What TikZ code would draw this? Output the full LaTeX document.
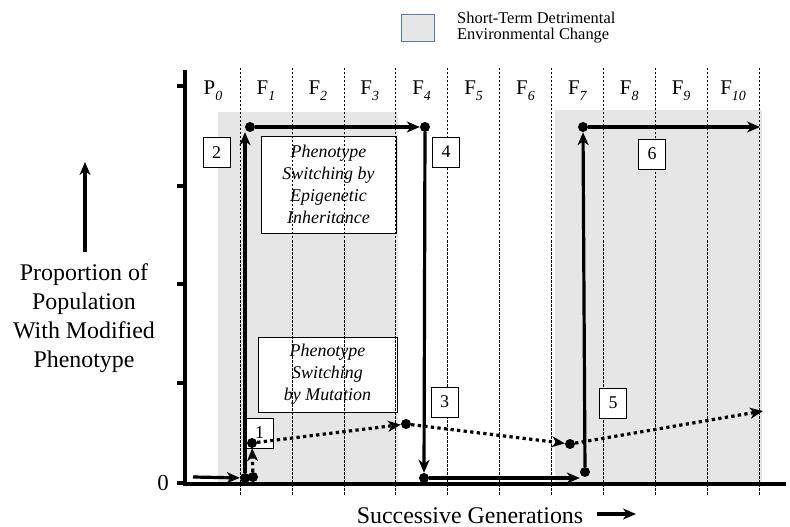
\documentclass[tikz,border=0pt]{standalone}
\usepackage{fontspec}
\setmainfont{Liberation Serif}
\usetikzlibrary{arrows.meta}
\definecolor{regiongray}{RGB}{230,230,230}
\definecolor{legendblue}{RGB}{80,125,175}
\newcommand{\gsub}[1]{\raisebox{-0.28em}{\fontsize{14}{14}\selectfont\itshape #1}}
\begin{document}
\begin{tikzpicture}[x=1bp,y=-1bp,
 thickline/.style={line width=3.2bp},
 dotline/.style={line width=3.2bp, dash pattern=on 3.3bp off 3.3bp},
 tip/.style={-{Stealth[length=13bp,width=11bp,inset=4bp]}},
 dot/.style={circle,fill=black,inner sep=0pt,minimum size=10bp},
 numbox/.style={draw,fill=white,line width=0.6bp,minimum width=27bp,minimum height=30bp,inner sep=0pt,font=\fontsize{18}{18}\selectfont},
 textbox/.style={draw,fill=white,line width=0.6bp,inner sep=0pt,align=center,font=\fontsize{18}{22}\selectfont\itshape},
 gen/.style={font=\fontsize{21}{21}\selectfont,anchor=base,inner sep=0pt},
 gridline/.style={line width=0.6bp,dash pattern=on 2.5bp off 1.5bp},
 legtext/.style={anchor=base west, inner sep=0pt, font=\fontsize{16.5}{16.5}\selectfont}
]
\useasboundingbox (0,0) rectangle (790,527);
% shaded regions
\fill[regiongray] (218,112) rectangle (398,484);
\fill[regiongray] (555,110) rectangle (762,484);
% legend
\node[draw=legendblue, fill=regiongray, line width=0.8bp, minimum width=33bp, minimum height=27bp, inner sep=0pt] (leg) at (417.5,27.5) {};
\node[legtext] (legA) at (457,24) {Short-Term Detrimental};
\node[legtext] (legB) at (457,39.5) {Environmental Change};
% text boxes
\node[textbox, minimum width=135bp, minimum height=97bp] (epi) at (328.5,184.5) {Phenotype\\Switching by\\Epigenetic\\Inheritance};
\node[textbox, minimum width=139bp, minimum height=75bp] (mut) at (327.5,374.5) {Phenotype\\Switching\\by Mutation};
% grid
\foreach \k in {0,...,10} {
  \draw[gridline] (240+51.9*\k,68) -- (240+51.9*\k,495);
}
% generation labels
\node[gen] (g0) at (213,95) {P\gsub{0}};
\foreach \k in {1,...,10} {
  \node[gen] (g\k) at (240+51.9*\k-25.95,95) {F\gsub{\k}};
}
% number boxes
\node[numbox] (n1) at (259.5,433) {1};
\node[numbox] (n2) at (216.5,152.5) {2};
\node[numbox] (n3) at (444.5,402) {3};
\node[numbox] (n4) at (446,152) {4};
\node[numbox] (n5) at (613,403) {5};
\node[numbox] (n6) at (652,154) {6};
% axes
\draw[thickline] (185,70) -- (185,485.6);
\draw[thickline] (183.4,484) -- (786,484);
\foreach \y in {86,186,284,383,483} {
  \draw[thickline] (177,\y) -- (185,\y);
}
\node[anchor=base, inner sep=0pt, font=\fontsize{23}{23}\selectfont] (zero) at (163,490) {0};
% axis labels
\node[align=center, inner sep=0pt, font=\fontsize{24}{29}\selectfont] (ylab) at (84,318) {Proportion of\\Population\\With Modified\\Phenotype};
\coordinate (ya0) at (85,252);
\coordinate (ya1) at (85,162);
\draw[thickline, tip] (ya0) -- (ya1);
\node[anchor=base, inner sep=0pt, font=\fontsize{24}{24}\selectfont] (xlab) at (470,523) {Successive Generations};
\coordinate (xa0) at (597,514);
\coordinate (xa1) at (636,514);
\draw[thickline, tip] (xa0) -- (xa1);
% path points
\coordinate (a0) at (193,477);
\node[dot] (d1) at (245,478) {};
\node[dot] (d2) at (253,477) {};
\node[dot] (d3) at (252,443) {};
\node[dot] (d4) at (250,127) {};
\node[dot] (d5) at (425,127) {};
\node[dot] (d6) at (424,478) {};
\node[dot] (d7) at (585,472) {};
\node[dot] (d8) at (583,127) {};
\coordinate (e1) at (760,127);
\node[dot] (m1) at (406,424) {};
\node[dot] (m2) at (570,444) {};
\coordinate (m3) at (763,411);
% solid path
\draw[thickline, tip] (a0) -- (d1);
\draw[thickline, tip] (d1) -- (d1 |- d4.south);
\draw[thickline, tip] (d4) -- (d5);
\draw[thickline, tip] (d5) -- (d6);
\draw[thickline, tip] (d6) -- (d7.west |- d6);
\draw[thickline, tip] (d7) -- (d8);
\draw[thickline, tip] (d8) -- (e1);
% dotted path
\draw[dotline, tip] (d2) -- (d3);
\draw[dotline, tip] (d3) -- (m1);
\draw[dotline, tip] (m1) -- (m2);
\draw[dotline, tip] (m2) -- (m3);
\end{tikzpicture}
\end{document}
